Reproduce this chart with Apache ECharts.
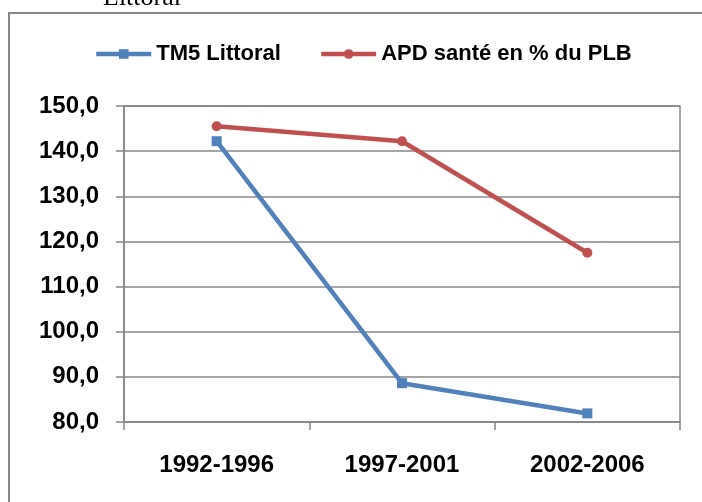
<!DOCTYPE html>
<html>
<head>
<meta charset="utf-8">
<script src="https://cdn.jsdelivr.net/npm/echarts@6/dist/echarts.min.js"></script>
<style>
  html, body { margin: 0; padding: 0; background: #fff; }
  #chart { width: 702px; height: 502px; }
</style>
</head>
<body>
<div id="chart"></div>
<script>
// périodes et valeurs
const periodes = ["1992-1996", "1997-2001", "2002-2006"];
const tm5Littoral = [142.2, 88.6, 81.9];
const apdSante = [145.5, 142.2, 117.5];
const yMin = 80, yMax = 150, yStep = 10;

const font = "'Liberation Sans', Arial, sans-serif";
const grey = "#868686";

let myChart = echarts.init(document.getElementById("chart"));
let option = {
  animation: false,
  textStyle: { fontFamily: font },
  graphic: [
    {
      // cadre coupé à droite et en bas
      type: "rect",
      shape: { x: 9, y: 13, width: 800, height: 600 },
      style: { fill: "none", stroke: grey, lineWidth: 2 }
    },
    {
      type: "text",
      style: {
        x: 103, y: 11, text: "Littoral", verticalAlign: "bottom",
        font: "26px 'Liberation Serif', serif", fill: "#000"
      }
    }
  ],
  legend: {
    left: 89, top: 38,
    itemWidth: 55, itemHeight: 12, itemGap: 38,
    lineStyle: { width: 4.5 },
    textStyle: { fontSize: 22, fontWeight: "bold", color: "#000", fontFamily: font },
    data: ["TM5 Littoral", "APD santé en % du PLB"]
  },
  grid: {
    left: 124, right: 22, top: 106, bottom: 80,
    show: true, borderColor: grey, borderWidth: 1.5
  },
  xAxis: {
    type: "category",
    data: periodes,
    boundaryGap: true,
    axisLine: { lineStyle: { color: grey, width: 1.5 } },
    axisTick: { show: true, length: 8, lineStyle: { color: grey, width: 1.5 } },
    axisLabel: { margin: 31, fontSize: 24, fontWeight: "bold", color: "#000" }
  },
  yAxis: {
    type: "value",
    min: yMin, max: yMax, interval: yStep,
    axisLine: { show: true, lineStyle: { color: grey, width: 1.5 } },
    axisTick: { show: true, length: 8, lineStyle: { color: grey, width: 1.5 } },
    splitLine: { lineStyle: { color: grey, width: 1.5 } },
    axisLabel: {
      margin: 25, fontSize: 24, fontWeight: "bold", color: "#000",
      formatter: v => v.toFixed(1).replace(".", ",")
    }
  },
  series: [
    {
      name: "TM5 Littoral",
      type: "line",
      data: tm5Littoral,
      symbol: "rect", symbolSize: 10,
      lineStyle: { width: 4.5, color: "#4F81BD" },
      itemStyle: { color: "#4F81BD" }
    },
    {
      name: "APD santé en % du PLB",
      type: "line",
      data: apdSante,
      symbol: "circle", symbolSize: 10,
      lineStyle: { width: 4.5, color: "#C0504D" },
      itemStyle: { color: "#C0504D" }
    }
  ]
};
myChart.setOption(option);
window.addEventListener("resize", function () {
  myChart.resize();
});
</script>
</body>
</html>
